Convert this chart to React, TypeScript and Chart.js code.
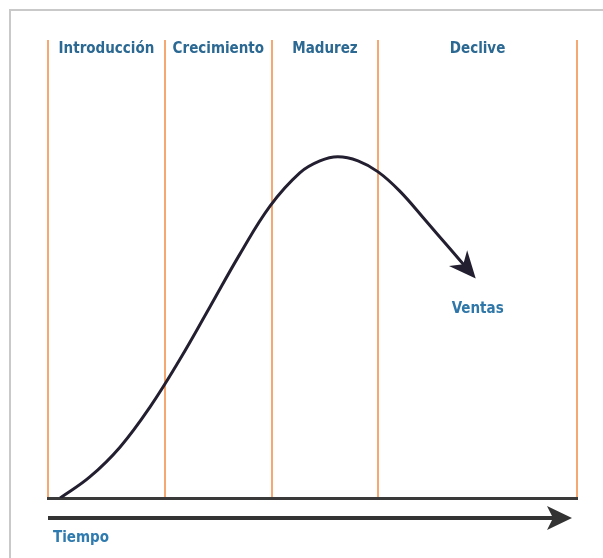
import React, { useEffect, useRef } from "react";
import { Chart, registerables } from "chart.js";

Chart.register(...registerables);

// Time axis (0..100) and sales (0..100)
const phaseNames = ["Introducción", "Crecimiento", "Madurez", "Declive"];
const phaseBounds = [0, 22.1, 42.3, 62.4, 100];
const timeValues = [2.3, 7.9, 13.6, 19.3, 25.0, 30.6, 36.3, 42.0, 47.6, 51.4, 54.8, 58.6, 62.4, 66.5, 71.3, 76.0, 79.0];
const salesValues = [0, 4.6, 11.1, 19.9, 30.4, 41.7, 53.3, 63.8, 71.0, 73.6, 74.5, 73.6, 71.2, 67.0, 60.7, 54.4, 50.4];
const seriesLabel = "Ventas";
const axisLabel = "Tiempo";

const labelFont = 'bold 15px "Liberation Sans Narrow", "DejaVu Sans Condensed", "Roboto", sans-serif';

const decorPlugin = {
  id: "decor",
  beforeDraw(chart: any) {
    const ctx = chart.ctx;
    ctx.save();
    ctx.fillStyle = "#ffffff";
    ctx.fillRect(0, 0, chart.width, chart.height);
    // frame lines (top & left)
    ctx.strokeStyle = "#c9c9c9";
    ctx.lineWidth = 2;
    ctx.beginPath();
    ctx.moveTo(10, chart.height);
    ctx.lineTo(10, 10);
    ctx.lineTo(chart.width, 10);
    ctx.stroke();
    ctx.restore();
  },
  afterDraw(chart: any) {
    const ctx = chart.ctx;
    const xs = chart.scales.x;
    const ys = chart.scales.y;
    const area = chart.chartArea;
    ctx.save();
    // phase labels
    ctx.font = labelFont;
    ctx.fillStyle = "#2b6892";
    ctx.textAlign = "center";
    ctx.textBaseline = "middle";
    for (let i = 0; i < phaseNames.length; i++) {
      const mid = (phaseBounds[i] + phaseBounds[i + 1]) / 2;
      ctx.fillText(phaseNames[i], xs.getPixelForValue(mid), area.top + 9);
    }
    // arrow head for the sales curve
    const n = timeValues.length;
    const x1 = xs.getPixelForValue(timeValues[n - 3]);
    const y1 = ys.getPixelForValue(salesValues[n - 3]);
    const x2 = xs.getPixelForValue(timeValues[n - 1]);
    const y2 = ys.getPixelForValue(salesValues[n - 1]);
    const ang = Math.atan2(y2 - y1, x2 - x1);
    const tipX = x2 + Math.cos(ang) * 15;
    const tipY = y2 + Math.sin(ang) * 15;
    ctx.translate(tipX, tipY);
    ctx.rotate(ang);
    ctx.fillStyle = "#231f30";
    ctx.beginPath();
    ctx.moveTo(0, 0);
    ctx.lineTo(-27, -12);
    ctx.lineTo(-19, 0);
    ctx.lineTo(-27, 12);
    ctx.closePath();
    ctx.fill();
    ctx.setTransform(1, 0, 0, 1, 0, 0);
    // series label
    ctx.font = labelFont;
    ctx.fillStyle = "#2f77a8";
    ctx.textAlign = "center";
    ctx.fillText(seriesLabel, tipX + 2, tipY + 31);
    // time arrow
    const ay = area.bottom + 20;
    ctx.strokeStyle = "#333333";
    ctx.lineWidth = 4;
    ctx.beginPath();
    ctx.moveTo(area.left, ay);
    ctx.lineTo(area.right - 20, ay);
    ctx.stroke();
    ctx.fillStyle = "#333333";
    ctx.beginPath();
    ctx.moveTo(area.right - 5, ay);
    ctx.lineTo(area.right - 30, ay - 12);
    ctx.lineTo(area.right - 24, ay);
    ctx.lineTo(area.right - 30, ay + 12);
    ctx.closePath();
    ctx.fill();
    // time label
    ctx.fillStyle = "#2f7bb0";
    ctx.textAlign = "left";
    ctx.fillText(axisLabel, area.left + 5, ay + 20);
    ctx.restore();
  },
};

export default function App() {
  const ref = useRef<HTMLCanvasElement>(null);
  useEffect(() => {
    document.body.style.margin = "0";
    const chart = new Chart(ref.current!, {
      type: "line",
      data: {
        datasets: [
          {
            label: seriesLabel,
            data: timeValues.map((t, i) => ({ x: t, y: salesValues[i] })),
            borderColor: "#231f30",
            borderWidth: 3,
            pointRadius: 0,
            tension: 0.4,
            fill: false,
          },
        ],
      },
      options: {
        animation: false,
        responsive: false,
        maintainAspectRatio: false,
        layout: { padding: { left: 48, right: 26, top: 40, bottom: 60 } },
        plugins: { legend: { display: false }, tooltip: { enabled: false } },
        scales: {
          x: {
            type: "linear",
            min: 0,
            max: 100,
            afterBuildTicks: (scale: any) => {
              scale.ticks = phaseBounds.map((v) => ({ value: v }));
            },
            ticks: { display: false },
            grid: { color: "#f6a873", lineWidth: 2, drawTicks: false },
            border: { display: true, color: "#3a3a3a", width: 3 },
          },
          y: {
            display: false,
            min: 0,
            max: 100,
          },
        },
      },
      plugins: [decorPlugin],
    });
    return () => chart.destroy();
  }, []);
  return <canvas ref={ref} width={603} height={558} style={{ display: "block" }} />;
}
